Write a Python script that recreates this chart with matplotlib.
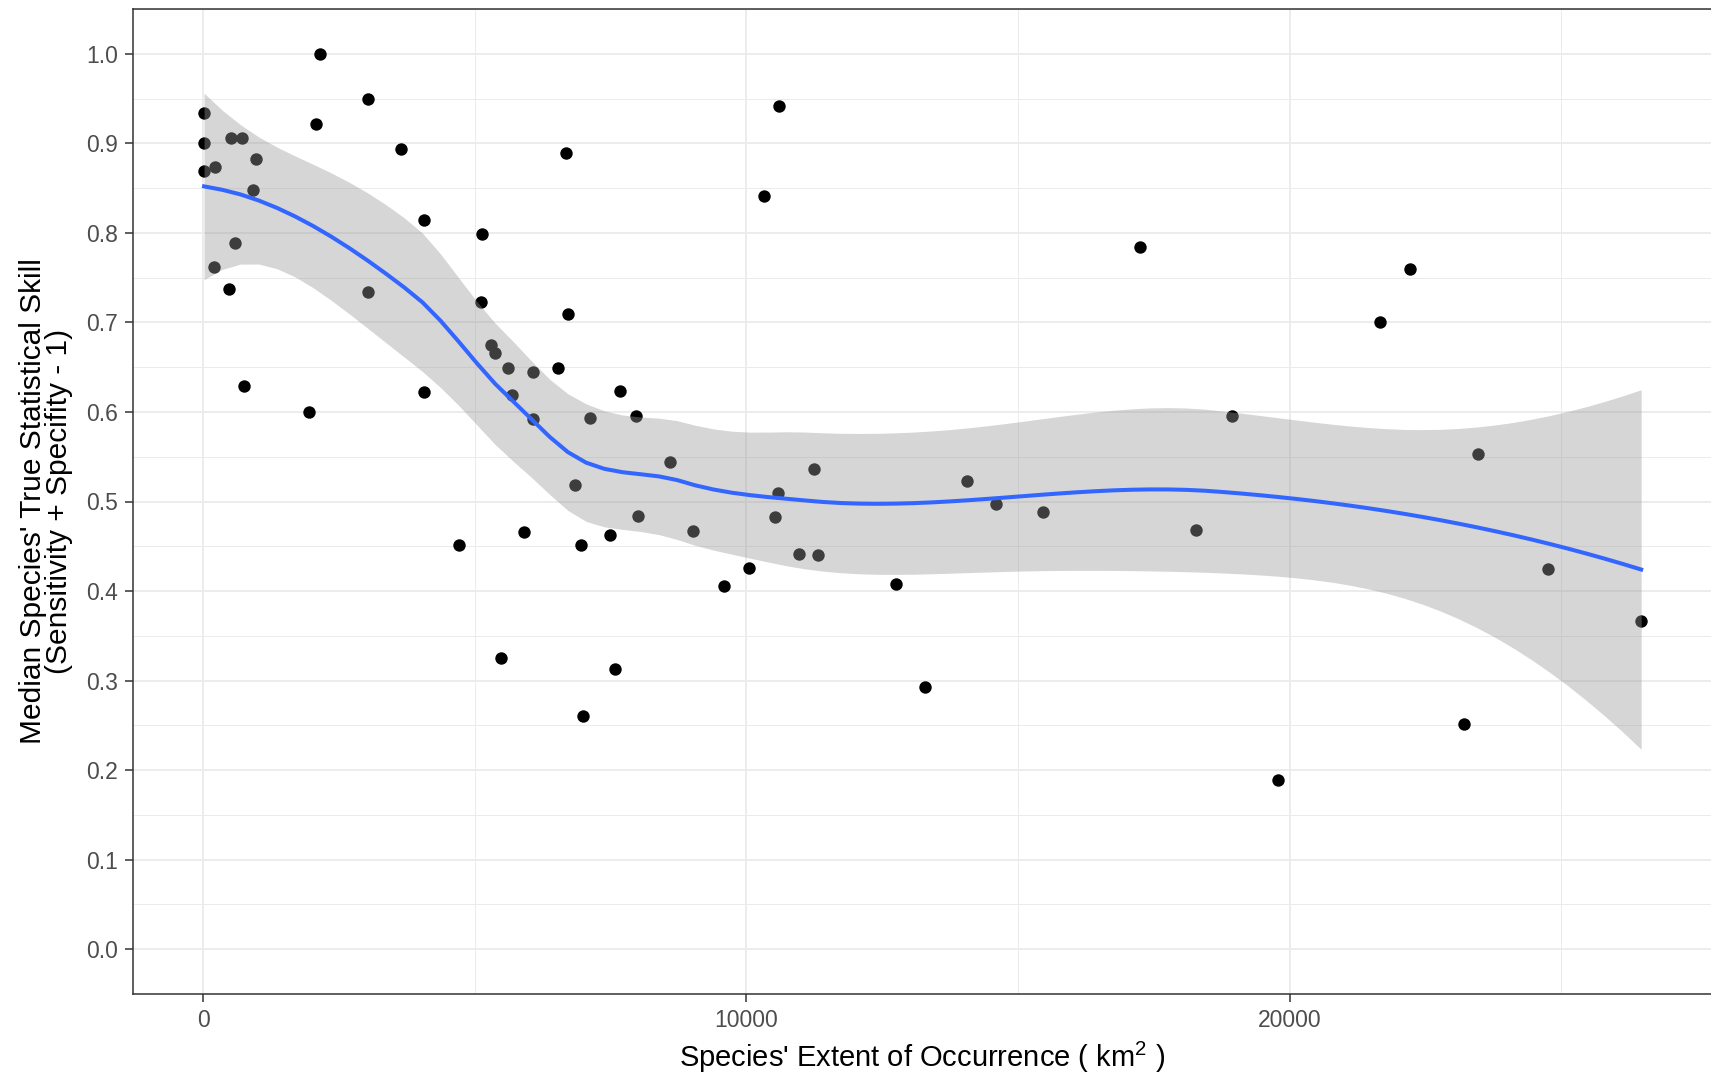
import numpy as np
import matplotlib
matplotlib.use("Agg")
import matplotlib.pyplot as plt
from matplotlib.ticker import MultipleLocator

plt.rcParams['font.family'] = ['Liberation Sans', 'DejaVu Sans']
plt.rcParams['mathtext.fontset'] = 'custom'
plt.rcParams['mathtext.rm'] = 'Liberation Sans'
plt.rcParams['mathtext.it'] = 'Liberation Sans'

# extent of occurrence (km^2) and median skill per species
eoo = [2160, 3030, 20, 2080, 20, 520, 718, 975, 221, 18,
       3644, 6674, 914, 4061, 5128, 589, 202, 485, 3030, 5116,
       6717, 5300, 5368, 5607, 6079, 6539, 7680, 754, 4061, 1951,
       5686, 6079, 7122, 7968, 8594, 6846, 11244, 10582, 7999, 10527,
       4705, 5907, 6956, 7496, 9024, 10962, 11324, 9579, 10048, 12747,
       5484, 7582, 6987, 10321, 10602, 17237, 22217, 21670, 18937, 23472,
       14059, 14595, 15466, 18279, 24747, 26468, 13279, 23209, 19788]
skill = [1.000, 0.950, 0.934, 0.922, 0.900, 0.906, 0.906, 0.883, 0.873, 0.869,
         0.894, 0.889, 0.848, 0.814, 0.799, 0.789, 0.762, 0.737, 0.734, 0.723,
         0.709, 0.675, 0.666, 0.649, 0.645, 0.649, 0.623, 0.629, 0.622, 0.600,
         0.619, 0.592, 0.593, 0.595, 0.544, 0.518, 0.536, 0.509, 0.484, 0.483,
         0.451, 0.466, 0.451, 0.463, 0.467, 0.441, 0.440, 0.406, 0.426, 0.408,
         0.325, 0.3135, 0.261, 0.841, 0.942, 0.784, 0.760, 0.700, 0.596, 0.553,
         0.523, 0.497, 0.488, 0.468, 0.425, 0.366, 0.293, 0.251, 0.189]

x_ticks = [0, 10000, 20000]
y_ticks = [0.0, 0.1, 0.2, 0.3, 0.4, 0.5, 0.6, 0.7, 0.8, 0.9, 1.0]

SPAN = 0.75


def local_rows(x, xv):
    # value row and slope row of a local quadratic fit with tricube weights
    n = len(x)
    q = int(np.floor(n * SPAN))
    d = np.abs(x - xv)
    h = np.sort(d)[q - 1]
    w = np.clip(1 - (d / h) ** 3, 0, None) ** 3
    u = (x - xv) / 1e4
    X = np.column_stack([np.ones(n), u, u ** 2])
    XtW = X.T * w
    B = np.linalg.solve(XtW @ X, XtW)
    return B[0], B[1] / 1e4


def vertices(x):
    # 1-d kd tree cuts like loess(surface = "interpolate")
    xs = np.sort(x)
    fc = int(np.floor(len(x) * SPAN * 0.2))
    pad = 0.005 * (xs[-1] - xs[0])
    cuts = [xs[0] - pad, xs[-1] + pad]

    def split(pts):
        if len(pts) <= fc:
            return
        m = (len(pts) - 1) // 2
        v = (pts[m] + pts[m + 1]) / 2
        cuts.append(v)
        split(pts[pts <= v])
        split(pts[pts > v])

    split(xs)
    return np.unique(cuts)


def interp_rows(x, x0, verts):
    vrows = [local_rows(x, v) for v in verts]
    out = []
    for xv in x0:
        k = np.clip(np.searchsorted(verts, xv) - 1, 0, len(verts) - 2)
        a, b = verts[k], verts[k + 1]
        hh = b - a
        t = (xv - a) / hh
        h00 = 2 * t ** 3 - 3 * t ** 2 + 1
        h10 = t ** 3 - 2 * t ** 2 + t
        h01 = -2 * t ** 3 + 3 * t ** 2
        h11 = t ** 3 - t ** 2
        va, sa = vrows[k]
        vb, sb = vrows[k + 1]
        out.append(h00 * va + h10 * hh * sa + h01 * vb + h11 * hh * sb)
    return np.array(out)


x = np.array(eoo, float)
y = np.array(skill, float)
verts = vertices(x)
L = interp_rows(x, x, verts)
R = np.eye(len(x)) - L
RtR = R.T @ R
d1 = np.trace(RtR)
d2 = np.trace(RtR @ RtR)
sigma = np.sqrt(np.sum((R @ y) ** 2) / d1)
df = d1 ** 2 / d2
z = 1.959964
tq = z + (z ** 3 + z) / (4 * df) + (5 * z ** 5 + 16 * z ** 3 + 3 * z) / (96 * df ** 2)

xg = np.linspace(x.min(), x.max(), 80)
Lg = interp_rows(x, xg, verts)
fit = Lg @ y
se = sigma * np.sqrt(np.sum(Lg ** 2, axis=1))

fig = plt.figure(figsize=(17.11, 10.77), dpi=100)
ax = fig.add_axes([133 / 1711, 1 - 994 / 1077, 1580 / 1711, 985 / 1077])

ax.scatter(x, y, s=80, color='black', linewidths=0, zorder=3)
ax.fill_between(xg, fit - tq * se, fit + tq * se, color='#999999', alpha=0.4,
                linewidth=0, zorder=4)
ax.plot(xg, fit, color='#3366FF', lw=2.9, zorder=5)

ax.set_xlim(-1290, 27790)
ax.set_ylim(-0.05, 1.05)
ax.set_xticks(x_ticks)
ax.set_yticks(y_ticks)
ax.set_yticklabels([f'{v:.1f}' for v in y_ticks])
ax.xaxis.set_minor_locator(MultipleLocator(5000))
ax.yaxis.set_minor_locator(MultipleLocator(0.05))

ax.grid(which='major', color='#EBEBEB', lw=1.3, zorder=0)
ax.grid(which='minor', color='#EBEBEB', lw=0.7, zorder=0)
ax.set_axisbelow(True)

ax.tick_params(which='major', length=5.6, width=1.1, color='#333333',
               labelsize=16.5, labelcolor='#4D4D4D', pad=5)
ax.tick_params(which='minor', length=0)
for s in ax.spines.values():
    s.set_color('#333333')
    s.set_linewidth(1.1)

ax.set_xlabel("Species' Extent of Occurrence ( km$^{2}$ )", fontsize=21, color='black')
ax.xaxis.set_label_coords((922 - 133) / 1580, -(1057 - 994) / 985)
ax.xaxis.label.set_va('center')
ax.set_ylabel("Median Species' True Statistical Skill\n(Sensitivity + Specifity - 1)",
              fontsize=21.5, color='black', linespacing=0.95)
ax.yaxis.set_label_coords(-(133 - 46) / 1580, 0.5)
ax.yaxis.label.set_va('center')

fig.savefig('out.png', dpi=100, facecolor='white')
